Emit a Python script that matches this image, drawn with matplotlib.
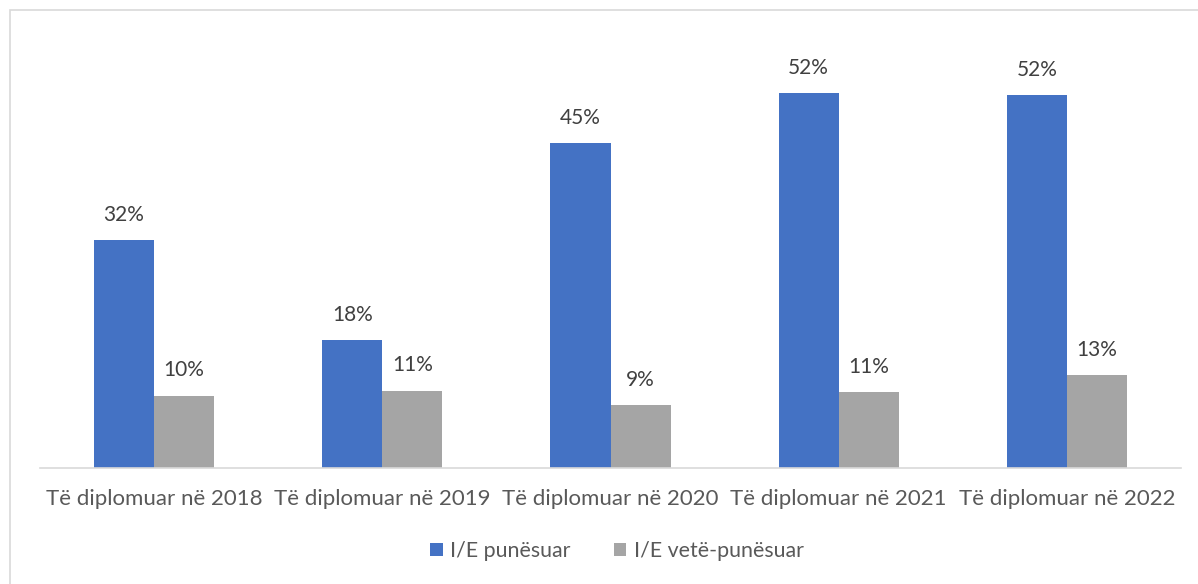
import numpy as np
import matplotlib.pyplot as plt
from matplotlib.patches import Rectangle

# data (percent)
categories = ["Të diplomuar në 2018", "Të diplomuar në 2019", "Të diplomuar në 2020",
              "Të diplomuar në 2021", "Të diplomuar në 2022"]
employed = [31.8, 17.8, 45.3, 52.3, 52.0]
self_employed = [10.1, 10.8, 8.8, 10.6, 13.0]
series_names = ["I/E punësuar", "I/E vetë-punësuar"]

BLUE = "#4472C4"
GRAY = "#A5A5A5"
W, H = 1198, 584

plt.rcParams["font.family"] = ["Lato", "DejaVu Sans"]

fig = plt.figure(figsize=(W / 100, H / 100), dpi=100)
fig.patch.set_facecolor("white")

# chart frame (cut off at the right and bottom in the reference)
fig.patches.append(Rectangle((10 / W, -0.05), 1.1, 1 - 9.5 / H + 0.05,
                             transform=fig.transFigure, fill=False,
                             edgecolor="#D9D9D9", linewidth=1.2))

ax = fig.add_axes([40 / W, (H - 468) / H, 1141 / W, 430 / H])
x = np.arange(len(categories))
bw = 0.263
b1 = ax.bar(x - bw / 2, employed, bw, color=BLUE, label=series_names[0])
b2 = ax.bar(x + bw / 2, self_employed, bw, color=GRAY, label=series_names[1])

for bars, vals in ((b1, employed), (b2, self_employed)):
    for rect, v in zip(bars, vals):
        ax.annotate(f"{round(v)}%", (rect.get_x() + rect.get_width() / 2, v),
                    xytext=(0, 11), textcoords="offset points",
                    ha="center", va="bottom", fontsize=15, color="#404040")

ax.set_xlim(-0.5, len(categories) - 0.5)
ax.set_ylim(0, 60)
ax.set_yticks([])
ax.set_xticks(x)
ax.set_xticklabels(categories, fontsize=16, color="#595959")
ax.tick_params(axis="x", length=0, pad=15)
for s in ("top", "right", "left"):
    ax.spines[s].set_visible(False)
ax.spines["bottom"].set_color("#D9D9D9")
ax.spines["bottom"].set_linewidth(1.2)

fig.legend(loc="center", bbox_to_anchor=(617 / W, 1 - 551 / H), ncol=2,
           frameon=False, fontsize=15.4, labelcolor="#595959",
           handlelength=0.6, handleheight=0.6, handletextpad=0.35,
           columnspacing=2.0)

fig.savefig("out.png", dpi=100)
